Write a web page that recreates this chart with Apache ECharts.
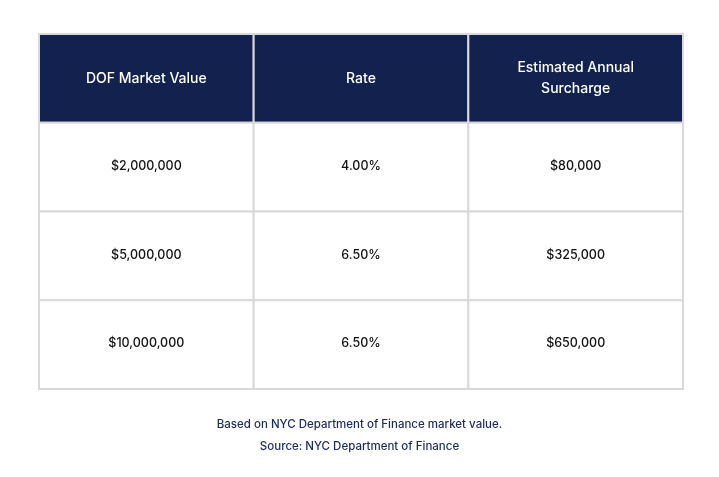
<!DOCTYPE html>
<html>
<head>
<meta charset="utf-8">
<script src="https://cdn.jsdelivr.net/npm/echarts@6/dist/echarts.min.js"></script>
<style>
  html, body { margin: 0; padding: 0; background: #fff; }
  #echarts { width: 719px; height: 477px; }
</style>
</head>
<body>
<div id="echarts"></div>
<script>
// table content
var headers = ['DOF Market Value', 'Rate', 'Estimated Annual\nSurcharge'];
var marketValues = ['$2,000,000', '$5,000,000', '$10,000,000'];
var rates = ['4.00%', '6.50%', '6.50%'];
var surcharges = ['$80,000', '$325,000', '$650,000'];
var footnotes = ['Based on NYC Department of Finance market value.', 'Source: NYC Department of Finance'];

window.onload = function () {
    var columns = [0, 1, 2];
    var rows = [0, 1, 2, 3];

    // cells: [col, row, text]
    var cells = [];
    headers.forEach(function (h, c) { cells.push([c, 0, h]); });
    [marketValues, rates, surcharges].forEach(function (col, c) {
        col.forEach(function (v, r) { cells.push([c, r + 1, v]); });
    });

    var option = {
        animation: false,
        backgroundColor: '#fff',
        title: {
            text: footnotes.join('\n'),
            left: 'center',
            top: 409,
            textStyle: {
                fontFamily: 'Inter',
                fontSize: 11.5,
                fontWeight: 500,
                color: '#1c2a5c',
                lineHeight: 22
            }
        },
        grid: { left: 39, right: 36, top: 34, bottom: 88 },
        xAxis: {
            type: 'category',
            data: columns,
            show: false
        },
        yAxis: {
            type: 'category',
            data: rows,
            inverse: true,
            show: false
        },
        series: [{
            type: 'custom',
            data: cells,
            encode: { x: 0, y: 1 },
            renderItem: function (params, api) {
                var c = api.value(0), r = api.value(1);
                var center = api.coord([c, r]);
                var size = api.size([1, 1]);
                var isHead = r === 0;
                return {
                    type: 'group',
                    children: [{
                        type: 'rect',
                        shape: {
                            x: center[0] - size[0] / 2,
                            y: center[1] - size[1] / 2,
                            width: size[0],
                            height: size[1]
                        },
                        style: {
                            fill: isHead ? '#13214f' : '#fff',
                            stroke: '#d9d9d9',
                            lineWidth: 2
                        }
                    }, {
                        type: 'text',
                        x: center[0],
                        y: center[1] - (isHead ? 0 : 1),
                        style: {
                            text: cells[params.dataIndex][2],
                            align: 'center',
                            verticalAlign: 'middle',
                            fontFamily: 'Inter',
                            fontSize: isHead ? 14 : 12.5,
                            fontWeight: 500,
                            lineHeight: 21,
                            fill: isHead ? '#fff' : '#111'
                        }
                    }]
                };
            }
        }]
    };

    var mychart = echarts.init(document.getElementById('echarts'));
    mychart.setOption(option);
};
</script>
</body>
</html>
